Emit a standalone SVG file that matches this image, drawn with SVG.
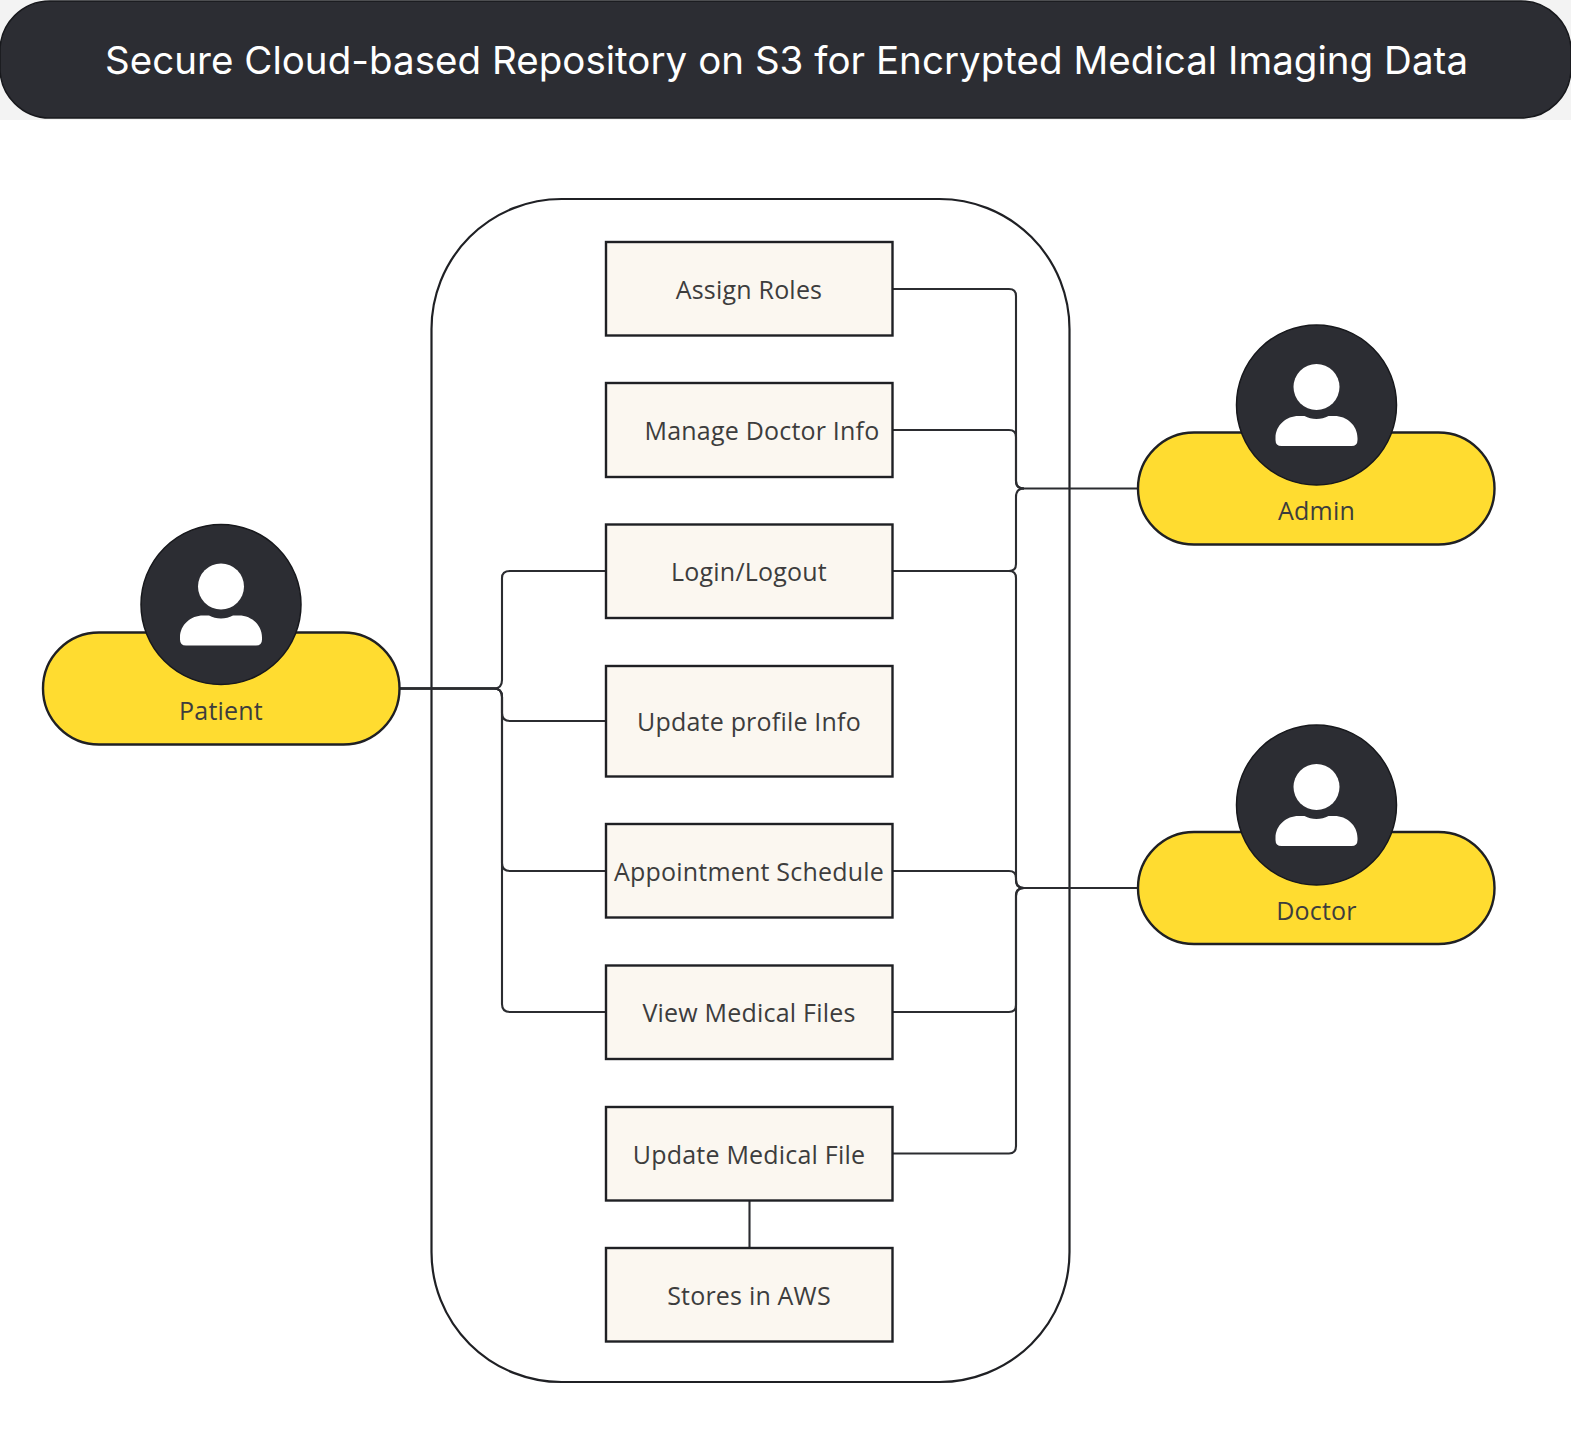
<svg xmlns="http://www.w3.org/2000/svg" width="1571" height="1431" viewBox="0 0 1571 1431">
<style>
.bx{fill:#fbf7f0;stroke:#1f2024;stroke-width:2.400}
.pill{fill:#ffdc30;stroke:#1f2024;stroke-width:2.400}
.dark{fill:#2c2d33;stroke:#17181c;stroke-width:1.500}
.ic{fill:#fff}
.lb{font-family:"Open Sans",sans-serif;font-size:25px;letter-spacing:.2px;fill:#3d3d3d;text-anchor:middle}
.c{fill:none;stroke:#2b2c30;stroke-width:2.100}
.t{font-family:Inter,"Noto Sans",sans-serif;font-size:38.500px;fill:#fff;text-anchor:middle}
</style>
<defs>
<g id="person"><circle cx="0" cy="-18" r="23"/><path d="M-41 33 C-41 20 -30 11 -18 11 H-12 C-5 15 5 15 12 11 H18 C30 11 41 20 41 33 V35 Q41 41 35 41 H-35 Q-41 41 -41 35 Z"/></g>
</defs>
<rect width="1571" height="120" fill="#f3f3f3"/>
<rect id="bg" x="0" y="120" width="1571" height="1311" fill="#fff"/>
<g id="header"><rect x="0" y="1" width="1571" height="117" rx="50" class="dark"/><text class="t" x="786.500" y="74" textLength="1363" lengthAdjust="spacing">Secure Cloud-based Repository on S3 for Encrypted Medical Imaging Data</text></g>
<g id="container"><rect x="431.500" y="199" width="638" height="1183" rx="130" fill="#fff" stroke="#1f2024" stroke-width="2.200"/></g>
<g id="connectors">
<path class="c" d="M893 289 H1009 Q1016 289 1016 296 V481 Q1016 488.500 1024 488.500 H1138"/>
<path class="c" d="M893 430 H1009 Q1016 430 1016 437 V481 Q1016 488.500 1024 488.500"/>
<path class="c" d="M893 571 H1009 Q1016 571 1016 564 V497 Q1016 488.500 1024 488.500"/>
<path class="c" d="M893 571 H1009 Q1016 571 1016 578 V880 Q1016 888 1024 888 H1138"/>
<path class="c" d="M893 871 H1009 Q1016 871 1016 878 V880 Q1016 888 1024 888"/>
<path class="c" d="M893 1012 H1009 Q1016 1012 1016 1005 V896 Q1016 888 1024 888"/>
<path class="c" d="M893 1153.500 H1009 Q1016 1153.500 1016 1146 V896 Q1016 888 1024 888"/>
<path class="c" d="M400 688.500 H494 Q502 688.500 502 680 V578 Q502 571 510 571 H606"/>
<path class="c" d="M400 688.500 H494 Q502 688.500 502 697 V713 Q502 721 510 721 H606"/>
<path class="c" d="M400 688.500 H494 Q502 688.500 502 697 V863 Q502 871 510 871 H606"/>
<path class="c" d="M400 688.500 H494 Q502 688.500 502 697 V1004 Q502 1012 510 1012 H606"/>
<path class="c" d="M749.500 1200 V1248"/>
</g>
<g id="assign-roles"><rect class="bx" x="606" y="242" width="286.500" height="93.500"/><text class="lb" x="749" y="299">Assign Roles</text></g>
<g id="manage-doctor"><rect class="bx" x="606" y="383" width="286.500" height="94"/><text class="lb" x="762" y="440">Manage Doctor Info</text></g>
<g id="login"><rect class="bx" x="606" y="524.500" width="286.500" height="93.500"/><text class="lb" x="749" y="581">Login/Logout</text></g>
<g id="update-profile"><rect class="bx" x="606" y="666" width="286.500" height="110.500"/><text class="lb" x="749" y="731">Update profile Info</text></g>
<g id="appointment"><rect class="bx" x="606" y="824" width="286.500" height="93.500"/><text class="lb" x="749" y="881">Appointment Schedule</text></g>
<g id="view-files"><rect class="bx" x="606" y="965.500" width="286.500" height="93.500"/><text class="lb" x="749" y="1022">View Medical Files</text></g>
<g id="update-file"><rect class="bx" x="606" y="1107" width="286.500" height="93.500"/><text class="lb" x="749" y="1163.500">Update Medical File</text></g>
<g id="stores"><rect class="bx" x="606" y="1248" width="286.500" height="93.500"/><text class="lb" x="749" y="1304.500">Stores in AWS</text></g>
<g id="patient"><rect class="pill" x="43" y="632.500" width="356.500" height="112" rx="56"/><circle class="dark" cx="221" cy="604.500" r="80"/><use href="#person" class="ic" x="221" y="604.500" fill="#fff"/><text class="lb" x="221" y="719.500">Patient</text></g>
<g id="admin"><rect class="pill" x="1138" y="432.500" width="356.500" height="112" rx="56"/><circle class="dark" cx="1316.500" cy="405" r="80"/><use href="#person" class="ic" x="1316.500" y="405" fill="#fff"/><text class="lb" x="1316.500" y="519.500">Admin</text></g>
<g id="doctor"><rect class="pill" x="1138" y="832" width="356.500" height="112" rx="56"/><circle class="dark" cx="1316.500" cy="805" r="80"/><use href="#person" class="ic" x="1316.500" y="805" fill="#fff"/><text class="lb" x="1316.500" y="919.500">Doctor</text></g>
</svg>
